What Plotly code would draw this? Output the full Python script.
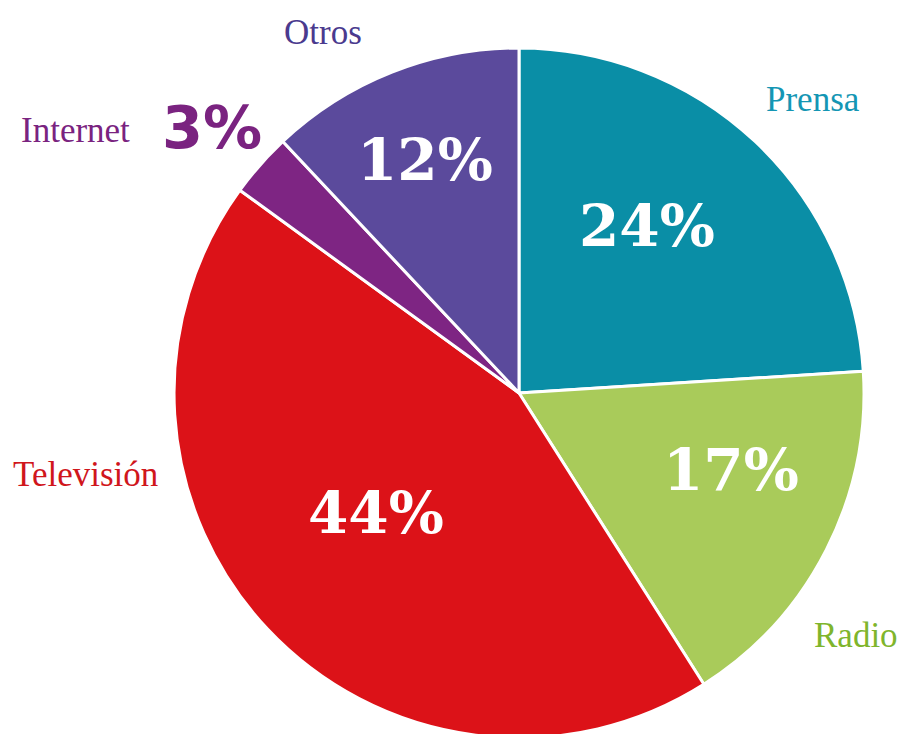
import plotly.graph_objects as go

# data
labels = ['Prensa', 'Radio', 'Televisión', 'Internet', 'Otros']
values = [24, 17, 44, 3, 12]
colors = ['#0a8ea6', '#a9cb5a', '#dc1218', '#7e2583', '#5b4a9c']
label_colors = ['#1496b4', '#7fb52c', '#d0161c', '#7a2380', '#4a3a8e']

W, H = 907, 734
OX, OY = 8, 8  # page body margin in the browser

fig = go.Figure()
fig.add_trace(go.Pie(
    labels=labels,
    values=values,
    sort=False,
    direction='clockwise',
    rotation=0,
    marker=dict(colors=colors, line=dict(color='white', width=3)),
    textinfo='none',
    hoverinfo='label+percent',
    showlegend=False,
    domain=dict(x=[0.1830, 0.9438], y=[0.0055, 0.9455]),
))

# label positions in screen px
name_pos = {'Prensa': (813, 100), 'Radio': (856, 635), 'Televisión': (85, 474),
            'Internet': (75, 131), 'Otros': (323, 32)}
pct_pos = {'Prensa': (647, 226), 'Radio': (731, 470), 'Televisión': (376, 513),
           'Internet': (212, 128), 'Otros': (425, 160)}


def to_paper(p):
    return (p[0] - OX) / W, 1 - (p[1] - OY) / H


ann = []
for lab, val, lc in zip(labels, values, label_colors):
    x, y = to_paper(name_pos[lab])
    ann.append(dict(x=x, y=y, xref='paper', yref='paper',
                    text=lab, showarrow=False, xanchor='center', yanchor='middle',
                    font=dict(family='Liberation Serif', size=35, color=lc)))
    x, y = to_paper(pct_pos[lab])
    if lab == 'Internet':
        f = dict(family='DejaVu Sans', size=59, color=lc, weight='bold')
    else:
        f = dict(family='DejaVu Serif', size=58, color='white', weight='bold')
    ann.append(dict(x=x, y=y, xref='paper', yref='paper',
                    text=f'{val}%', showarrow=False, xanchor='center', yanchor='middle',
                    font=f))

fig.update_layout(
    width=W, height=H,
    margin=dict(t=0, b=0, l=0, r=0),
    paper_bgcolor='white',
    plot_bgcolor='white',
    annotations=ann,
)

fig.write_html("out.html")
